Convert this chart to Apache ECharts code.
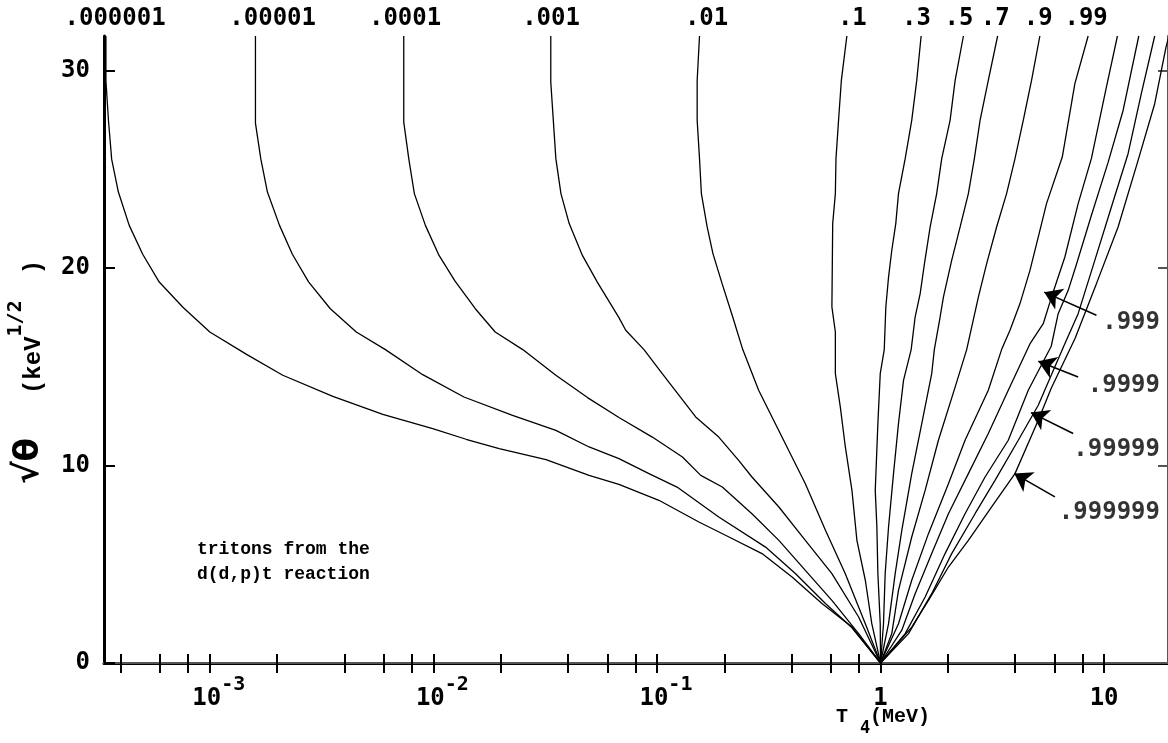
<!DOCTYPE html>
<html><head><meta charset="utf-8">
<script src="https://cdn.jsdelivr.net/npm/echarts@6/dist/echarts.min.js"></script>
<style>html,body{margin:0;padding:0;background:#fff}#c{width:1168px;height:743px}</style>
</head><body><div id="c"></div>
<script>
// ---- data: [T4 (MeV), sqrt(theta) (keV^1/2)] ----
const curveLabels = ['.000001','.00001','.0001','.001','.01','.1','.3','.5','.7','.9','.99','.999','.9999','.99999','.999999'];
const c000001 = [[3.43e-4,31.75],[3.43e-4,29.5],[3.52e-4,27.5],[3.64e-4,25.5],[3.90e-4,23.85],[4.36e-4,22.16],[5.01e-4,20.70],[5.94e-4,19.29],[7.60e-4,18.00],[1.00e-3,16.76],[1.46e-3,15.63],[2.12e-3,14.57],[3.55e-3,13.50],[5.94e-3,12.59],[9.93e-3,11.87],[0.0140,11.33],[0.0197,10.86],[0.0319,10.30],[0.0497,9.50],[0.0676,9.05],[0.102,8.24],[0.154,7.14],[0.210,6.38],[0.295,5.54],[0.402,4.35],[0.547,3.01],[0.745,1.82],[1,0]];
const c00001 = [[1.60e-3,31.75],[1.60e-3,27.34],[1.69e-3,25.54],[1.81e-3,23.85],[2.05e-3,22.16],[2.34e-3,20.70],[2.77e-3,19.29],[3.46e-3,17.94],[4.52e-3,16.76],[6.10e-3,15.87],[8.96e-3,14.60],[0.0137,13.47],[0.0226,12.54],[0.0353,11.78],[0.0497,10.94],[0.0676,10.35],[0.0921,9.59],[0.123,8.91],[0.189,7.39],[0.306,5.87],[0.416,4.53],[0.567,3.01],[0.742,1.81],[1,0]];
const c0001 = [[7.37e-3,31.75],[7.37e-3,27.39],[7.76e-3,25.54],[8.22e-3,23.77],[9.21e-3,22.16],[0.0106,20.64],[0.0125,19.34],[0.0154,17.94],[0.0189,16.76],[0.0251,15.87],[0.0353,14.57],[0.0489,13.44],[0.0676,12.43],[0.0953,11.44],[0.130,10.43],[0.157,9.50],[0.196,8.91],[0.266,7.56],[0.351,6.21],[0.461,4.69],[0.606,3.17],[0.798,1.49],[1,0]];
const c001 = [[0.0335,31.75],[0.0335,29.42],[0.0353,25.54],[0.0372,23.77],[0.0405,22.25],[0.0464,20.64],[0.0541,19.29],[0.0676,17.49],[0.0725,16.85],[0.0875,15.87],[0.1056,14.65],[0.149,12.46],[0.189,11.44],[0.232,10.26],[0.266,9.42],[0.351,7.90],[0.461,6.21],[0.606,4.53],[0.798,2.33],[1,0]];
const c01 = [[0.155,31.75],[0.1513,29.5],[0.1513,27.48],[0.155,25.54],[0.158,23.77],[0.1677,22.08],[0.178,20.73],[0.1956,19.21],[0.217,17.61],[0.242,15.87],[0.285,13.81],[0.327,12.46],[0.388,10.77],[0.461,9.08],[0.567,6.72],[0.695,4.53],[0.855,1.99],[1,0]];
const c1 = [[0.707,31.75],[0.668,29.5],[0.649,27.48],[0.632,25.54],[0.628,23.77],[0.611,22.25],[0.606,18.03],[0.628,16.76],[0.628,14.65],[0.661,12.96],[0.696,10.94],[0.745,8.74],[0.784,6.21],[0.855,4.19],[0.914,1.99],[1,0]];
const c3 = [[1.519,31.75],[1.452,29.5],[1.379,27.48],[1.289,25.54],[1.203,23.77],[1.170,22.25],[1.123,20.90],[1.086,19.54],[1.056,18.03],[1.039,15.87],[0.997,14.65],[0.973,12.12],[0.947,8.74],[0.963,6.89],[0.973,4.53],[0.997,1.99],[1,0]];
const c5 = [[2.348,31.75],[2.156,29.5],[2.047,27.48],[1.878,25.54],[1.783,23.77],[1.667,22.08],[1.572,20.22],[1.504,18.70],[1.428,17.52],[1.371,15.87],[1.267,14.31],[1.203,12.12],[1.143,9.59],[1.086,6.89],[1.049,4.53],[1.031,1.99],[1,0]];
const c7 = [[3.340,31.75],[3.034,29.5],[2.787,27.48],[2.628,25.54],[2.471,23.77],[2.270,22.08],[2.081,20.39],[1.911,18.53],[1.847,17.52],[1.74,15.87],[1.694,14.65],[1.529,12.12],[1.379,9.59],[1.245,6.72],[1.163,4.53],[1.086,1.99],[1,0]];
const c9 = [[5.16,31.75],[4.736,29.5],[4.349,27.48],[3.994,25.54],[3.663,23.77],[3.305,22.08],[2.983,20.22],[2.739,18.53],[2.428,15.87],[2.156,13.97],[1.815,11.28],[1.583,8.74],[1.379,6.38],[1.203,3.68],[1.123,1.49],[1,0]];
const c99 = [[8.484,31.75],[7.40,29.34],[6.50,25.62],[5.525,23.26],[5.075,21.57],[4.660,19.88],[4.205,18.20],[3.793,16.85],[3.479,15.87],[3.034,13.81],[2.388,11.28],[2.012,9.08],[1.638,6.55],[1.379,4.19],[1.203,1.99],[1,0]];
const c999 = [[11.47,31.75],[10.21,29.10],[8.776,25.55],[7.654,23.26],[6.676,20.56],[5.818,18.53],[5.343,17.18],[4.674,16.19],[3.727,13.81],[3.034,11.62],[2.471,9.59],[2.012,7.56],[1.694,5.54],[1.428,3.51],[1.245,1.66],[1,0]];
const c9999 = [[14.29,31.75],[12.16,27.98],[10.42,25.35],[8.776,22.67],[7.499,20.14],[6.908,18.87],[6.231,17.69],[5.801,16.04],[4.579,13.81],[3.727,11.28],[2.934,9.42],[2.388,7.56],[1.944,5.54],[1.583,3.34],[1.289,1.49],[1,0]];
const c99999 = [[16.84,31.75],[14.67,28.83],[12.80,25.79],[10.78,23.09],[9.087,20.39],[7.654,17.69],[6.628,16.09],[5.075,13.05],[4.131,11.28],[3.251,9.25],[2.647,7.56],[2.081,5.54],[1.694,3.51],[1.334,1.49],[1,0]];
const c999999 = [[19.5,31.75],[18.92,31.19],[16.84,28.32],[14.19,25.45],[11.55,22.08],[9.24,19.21],[7.421,16.44],[5.80,13.91],[5.075,12.29],[3.994,9.59],[3.140,7.90],[2.471,6.21],[2.012,4.86],[1.638,3.17],[1.379,1.82],[1,0]];
const curves = [c000001,c00001,c0001,c001,c01,c1,c3,c5,c7,c9,c99,c999,c9999,c99999,c999999];

// axis ticks / labels
const xTickValues = [4e-4,6e-4,8e-4,1e-3,2e-3,4e-3,6e-3,8e-3,1e-2,2e-2,4e-2,6e-2,8e-2,0.1,0.2,0.4,0.6,0.8,1,2,4,6,8,10];
const xLabelValues = [1e-3,1e-2,1e-1,1,10];
const yTickValues = [0,10,20,30];
// top labels: fraction names at the top end of each curve
const topLabelT = [3.77e-4,1.91e-3,7.47e-3,0.0336,0.1667,0.748,1.448,2.244,3.26,5.07,8.31];
const topLabelText = ['.000001','.00001','.0001','.001','.01','.1','.3','.5','.7','.9','.99'];
// arrows: [label, tailT, tailS, tipT, tipS, labelS]
const arrowNotes = [
  ['.999', 9.24, 17.61, 5.397, 18.78, 17.25],
  ['.9999', 7.654, 14.48, 5.075, 15.28, 14.03],
  ['.99999', 7.27, 11.62, 4.708, 12.68, 10.82],
  ['.999999', 6.025, 8.41, 3.965, 9.59, 7.63]
];
const arrowLabelT = 17.78;

const X_MIN = 3.363e-4, X_MAX = 19.31, Y_MAX = 31.75;
const numFont = 'DejaVu Sans Mono';
const courier = 'Liberation Mono';
const NUM = 24;

const chart = echarts.init(document.getElementById('c'), null, {renderer:'canvas'});

function topFmt(v){
  let best = 0, bd = Infinity;
  topLabelT.forEach((t,i)=>{ const d = Math.abs(Math.log10(t)-Math.log10(v)); if (d<bd){bd=d;best=i;} });
  return topLabelText[best];
}
function botFmt(v){
  const e = Math.round(Math.log10(v));
  if (e === 0) return '{n|1}';
  if (e === 1) return '{n|10}';
  return '{pad|}{n|10}{sup|' + e + '}';
}

const series = curves.map((d,i)=>({
  type:'line', name: curveLabels[i], data: d, symbol:'none', showSymbol:false,
  lineStyle:{color:'#000', width:1.3}, clip:true, silent:true, animation:false
}));
series.push({
  type:'line', data:[], silent:true, animation:false,
  markLine:{
    silent:true, animation:false, symbol:['none','arrow'], symbolSize:17,
    lineStyle:{color:'#000', width:1.6, type:'solid'}, label:{show:false},
    data: arrowNotes.map(a=>[{coord:[a[1],a[2]]},{coord:[a[3],a[4]]}])
  }
});
series.push({
  type:'scatter', symbolSize:0, silent:true, animation:false,
  data: arrowNotes.map(a=>[arrowLabelT, a[5], a[0]]),
  label:{show:true, position:'left', distance:0, formatter:p=>p.value[2],
    fontFamily:numFont, fontWeight:'bold', fontSize:NUM, color:'#000'}
});

chart.setOption({
  animation:false,
  backgroundColor:'#fff',
  grid:{left:104, right:-2, top:36, bottom:80, containLabel:false},
  xAxis:[{
    type:'log', logBase:10, min:X_MIN, max:X_MAX, position:'bottom',
    axisLine:{show:true, lineStyle:{color:'#000', width:3}},
    axisTick:{show:true, inside:true, length:9, customValues:xTickValues, lineStyle:{color:'#000', width:2}},
    axisLabel:{show:true, customValues:xLabelValues, formatter:botFmt, margin:12,
      rich:{
        pad:{width:18, lineHeight:36},
        n:{fontFamily:numFont, fontWeight:'bold', fontSize:NUM, color:'#000', lineHeight:36, verticalAlign:'bottom'},
        sup:{fontFamily:numFont, fontWeight:'bold', fontSize:20, color:'#000', lineHeight:36, verticalAlign:'top'}
      }},
    splitLine:{show:false}, minorTick:{show:false}
  },{
    type:'log', logBase:10, min:X_MIN, max:X_MAX, position:'top',
    axisLine:{show:true, lineStyle:{color:'#555', width:2}},
    axisTick:{show:true, inside:true, length:10, customValues:xTickValues, lineStyle:{color:'#000', width:2}},
    axisLabel:{show:true, customValues:topLabelT, formatter:topFmt, margin:5,
      fontFamily:numFont, fontWeight:'bold', fontSize:NUM, color:'#000'},
    splitLine:{show:false}
  }],
  yAxis:[{
    type:'value', min:0, max:Y_MAX, position:'left',
    axisLine:{show:true, lineStyle:{color:'#000', width:3}},
    axisTick:{show:true, inside:true, length:11, customValues:yTickValues, lineStyle:{color:'#000', width:2}},
    axisLabel:{show:true, customValues:yTickValues, margin:14,
      fontFamily:numFont, fontWeight:'bold', fontSize:NUM, color:'#000'},
    splitLine:{show:false}
  },{
    type:'value', min:0, max:Y_MAX, position:'right',
    axisLine:{show:true, lineStyle:{color:'#555', width:2}},
    axisTick:{show:true, inside:true, length:10, customValues:yTickValues, lineStyle:{color:'#555', width:2}},
    axisLabel:{show:false}, splitLine:{show:false}
  }],
  graphic:[
    {type:'text', x:26, y:372, rotation:Math.PI/2, silent:true,
      style:{text:'{th|√θ}{sp|}{u|(keV}{s|1/2}{sp2|}{u|)}', align:'center', verticalAlign:'middle',
        rich:{
          th:{fontFamily:'DejaVu Sans', fontWeight:'bold', fontSize:34, fill:'#000', lineHeight:40, verticalAlign:'bottom'},
          sp:{width:44, lineHeight:40},
          sp2:{width:26, lineHeight:40},
          u:{fontFamily:courier, fontWeight:'bold', fontSize:24, fill:'#000', lineHeight:40, verticalAlign:'bottom'},
          s:{fontFamily:numFont, fontWeight:'bold', fontSize:20, fill:'#000', lineHeight:40, verticalAlign:'top'}
        }}},
    {type:'text', x:883, y:722, silent:true,
      style:{text:'{t|T }{s|4}{t|(MeV)}', align:'center', verticalAlign:'middle',
        rich:{
          t:{fontFamily:courier, fontWeight:'bold', fontSize:20, fill:'#000', lineHeight:30, verticalAlign:'top'},
          s:{fontFamily:numFont, fontWeight:'bold', fontSize:17, fill:'#000', lineHeight:30, verticalAlign:'bottom'}
        }}},
    {type:'text', x:197, y:537, silent:true,
      style:{text:'tritons from the\nd(d,p)t reaction', fontFamily:courier, fontWeight:'bold',
        fontSize:18, lineHeight:25, fill:'#000', align:'left', verticalAlign:'top'}}
  ],
  series: series
});
</script></body></html>
